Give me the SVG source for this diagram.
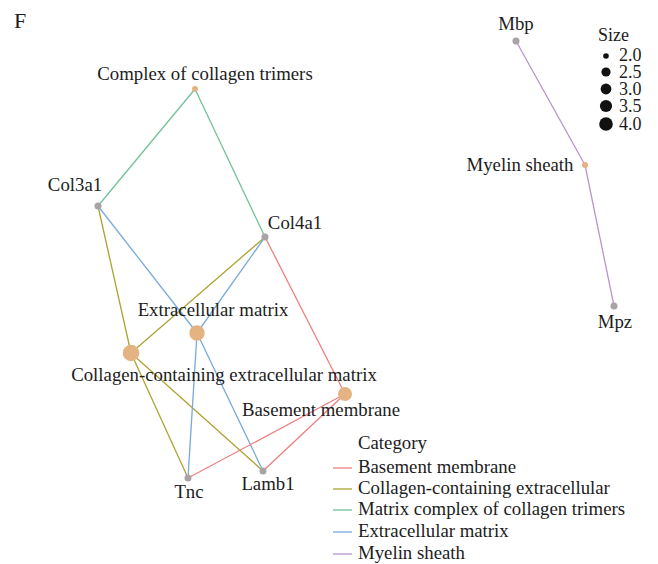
<svg xmlns="http://www.w3.org/2000/svg" width="658" height="564" viewBox="0 0 658 564">
<style>
text{font-family:"Liberation Serif","Times New Roman",serif;font-size:18.8px;fill:#1c1c1c}
.lbl{text-anchor:middle}
.e{stroke-width:1.3;fill:none}
.bm{stroke:#EE8080}
.cc{stroke:#ABA332}
.mc{stroke:#72C198}
.ec{stroke:#77AADB}
.my{stroke:#B994CC}
.term{fill:#E3B382}
.gene{fill:#A9A3A8}
.sz{fill:#111}
.szt{font-size:18px}
</style>
<rect width="658" height="564" fill="#fff"/>
<text x="14" y="28" style="font-size:22px">F</text>
<g id="edges">
<line class="e mc" x1="195" y1="89" x2="98" y2="206"/>
<line class="e mc" x1="195" y1="89" x2="265" y2="237"/>
<line class="e cc" x1="98" y1="206" x2="131" y2="353"/>
<line class="e cc" x1="265" y1="237" x2="131" y2="353"/>
<line class="e cc" x1="131" y1="353" x2="188" y2="478"/>
<line class="e cc" x1="131" y1="353" x2="263" y2="471"/>
<line class="e ec" x1="98" y1="206" x2="197" y2="333"/>
<line class="e ec" x1="265" y1="237" x2="197" y2="333"/>
<line class="e ec" x1="197" y1="333" x2="188" y2="478"/>
<line class="e ec" x1="197" y1="333" x2="263" y2="471"/>
<line class="e bm" x1="265" y1="237" x2="345" y2="394"/>
<line class="e bm" x1="345" y1="394" x2="188" y2="478"/>
<line class="e bm" x1="345" y1="394" x2="263" y2="471"/>
<line class="e my" x1="516" y1="41" x2="585" y2="165"/>
<line class="e my" x1="585" y1="165" x2="614" y2="306"/>
</g>
<g id="n-complex"><circle class="term" cx="195" cy="89" r="3"/><text class="lbl" x="205" y="80">Complex of collagen trimers</text></g>
<g id="n-col3a1"><circle class="gene" cx="98" cy="206" r="3.5"/><text class="lbl" x="75" y="191">Col3a1</text></g>
<g id="n-col4a1"><circle class="gene" cx="265" cy="237" r="3.5"/><text class="lbl" x="295" y="229">Col4a1</text></g>
<g id="n-ecm"><circle class="term" cx="197" cy="333" r="7.7"/><text class="lbl" x="213" y="316">Extracellular matrix</text></g>
<g id="n-ccecm"><circle class="term" cx="131" cy="353" r="8.3"/><text class="lbl" x="224" y="381">Collagen-containing extracellular matrix</text></g>
<g id="n-bm"><circle class="term" cx="345" cy="394" r="7"/><text class="lbl" x="321" y="416">Basement membrane</text></g>
<g id="n-tnc"><circle class="gene" cx="188" cy="478" r="3.5"/><text class="lbl" x="189" y="498">Tnc</text></g>
<g id="n-lamb1"><circle class="gene" cx="263" cy="471" r="3.5"/><text class="lbl" x="268" y="490">Lamb1</text></g>
<g id="n-mbp"><circle class="gene" cx="516" cy="41" r="3.5"/><text class="lbl" x="516" y="30">Mbp</text></g>
<g id="n-myelin"><circle class="term" cx="585" cy="165" r="3"/><text class="lbl" x="520" y="171">Myelin sheath</text></g>
<g id="n-mpz"><circle class="gene" cx="614" cy="306" r="3.5"/><text class="lbl" x="615" y="328">Mpz</text></g>
<g id="legend-size">
<text class="szt" x="598" y="41">Size</text>
<circle class="sz" cx="606" cy="56" r="2.8"/><text class="szt" x="619" y="61">2.0</text>
<circle class="sz" cx="606" cy="72" r="4.6"/><text class="szt" x="619" y="78">2.5</text>
<circle class="sz" cx="606" cy="89" r="5.4"/><text class="szt" x="619" y="95">3.0</text>
<circle class="sz" cx="606" cy="106" r="6.1"/><text class="szt" x="619" y="112">3.5</text>
<circle class="sz" cx="606" cy="124" r="6.8"/><text class="szt" x="619" y="130">4.0</text>
</g>
<g id="legend-category">
<text x="358" y="449">Category</text>
<line class="e bm" x1="333" y1="468" x2="352" y2="468"/><text x="358" y="473">Basement membrane</text>
<line class="e cc" x1="333" y1="489" x2="352" y2="489"/><text x="358" y="494">Collagen-containing extracellular</text>
<line class="e mc" x1="333" y1="510" x2="352" y2="510"/><text x="358" y="515">Matrix complex of collagen trimers</text>
<line class="e ec" x1="333" y1="532" x2="352" y2="532"/><text x="358" y="537">Extracellular matrix</text>
<line class="e my" x1="333" y1="554" x2="352" y2="554"/><text x="358" y="559">Myelin sheath</text>
</g>
</svg>
